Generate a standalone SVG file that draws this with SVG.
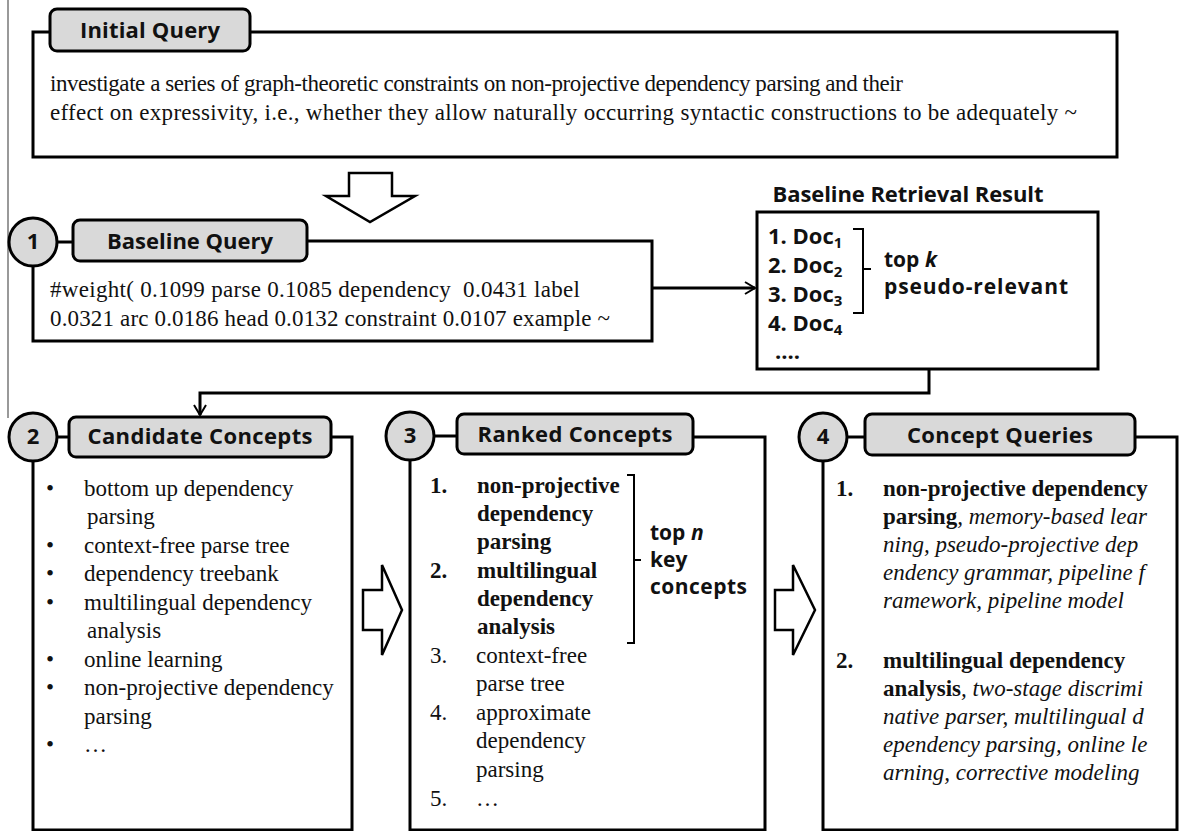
<svg xmlns="http://www.w3.org/2000/svg" width="1179" height="831" viewBox="0 0 1179 831">
<style>
.box{fill:none;stroke:#000;stroke-width:3}
.tab{fill:#d9d9d9;stroke:#000;stroke-width:3}
.ln{stroke:#000;stroke-width:3;fill:none}
.big{fill:#fff;stroke:#000;stroke-width:2.5;stroke-linejoin:miter}
.h{font-family:"Open Sans","Noto Sans",sans-serif;font-weight:bold;font-size:22px;text-anchor:middle;fill:#111}
.sb{font-family:"Open Sans","Noto Sans",sans-serif;font-weight:bold;font-size:22px;fill:#111}
.sk{font-family:"Open Sans","Noto Sans",sans-serif;font-weight:bold;font-size:21px;fill:#111}
.s{font-family:"Liberation Serif","Times New Roman",serif;font-size:23px;fill:#111;white-space:pre}
.b{font-weight:bold}
.i{font-style:italic}
</style>
<defs>
<marker id="chev" markerWidth="14" markerHeight="14" refX="11" refY="7" orient="auto" markerUnits="userSpaceOnUse">
<path d="M1,1 L11,7 L1,13" fill="none" stroke="#000" stroke-width="2"/>
</marker>
</defs>
<line x1="8" y1="0" x2="8" y2="418" stroke="#999" stroke-width="2"/>

<g id="connectors">
<line class="ln" x1="652" y1="288" x2="755" y2="288" stroke-width="2" marker-end="url(#chev)"/>
<path class="ln" stroke-width="2" d="M929,369 V393 H200 V415" marker-end="url(#chev)"/>
<polygon class="big" points="349,173 392,173 392,196 415,196 370,222 326,196 349,196"/>
<polygon class="big" points="363,590 382,590 382,565 402,610 382,655 382,630 363,630"/>
<polygon class="big" points="775,590 793,590 793,565 815,610 793,655 793,630 775,630"/>
</g>

<g id="initial-query">
<rect class="box" x="33" y="32" width="1084" height="125"/>
<rect class="tab" x="50" y="9" width="200" height="42" rx="7"/>
<text class="h" x="150" y="38" textLength="140">Initial Query</text>
<text class="s" x="50" y="91" font-size="22" textLength="853">investigate a series of graph-theoretic constraints on non-projective dependency parsing and their</text>
<text class="s" x="50" y="120" font-size="22" textLength="1027">effect on expressivity, i.e., whether they allow naturally occurring syntactic constructions to be adequately ~</text>
</g>

<g id="baseline-query">
<path class="box" d="M307,241 H652 V341 H33 V266"/>
<line class="ln" x1="57" y1="242" x2="73" y2="242"/>
<circle class="tab" cx="33" cy="242" r="24"/>
<text class="h" x="33" y="249">1</text>
<rect class="tab" x="73" y="220" width="234" height="41" rx="7"/>
<text class="h" x="190" y="249" textLength="166">Baseline Query</text>
<text class="s" x="50" y="297" textLength="530">#weight( 0.1099 parse 0.1085 dependency  0.0431 label</text>
<text class="s" x="50" y="326" textLength="560">0.0321 arc 0.0186 head 0.0132 constraint 0.0107 example ~</text>
</g>

<g id="baseline-retrieval-result">
<text class="h" x="908" y="202" textLength="271">Baseline Retrieval Result</text>
<rect class="box" x="757" y="212" width="341" height="157"/>
<text class="sb" x="768" y="244">1. Doc<tspan font-size="15" dy="4">1</tspan></text>
<text class="sb" x="768" y="273">2. Doc<tspan font-size="15" dy="4">2</tspan></text>
<text class="sb" x="768" y="302">3. Doc<tspan font-size="15" dy="4">3</tspan></text>
<text class="sb" x="768" y="331">4. Doc<tspan font-size="15" dy="4">4</tspan></text>
<text class="sb" x="775" y="359" font-size="20">....</text>
<path d="M853,229 H863 V313 H853 M863,269 H871" fill="none" stroke="#000" stroke-width="2"/>
<text class="sk" x="884" y="267">top <tspan font-style="italic">k</tspan></text>
<text class="sk" x="884" y="294" textLength="184">pseudo-relevant</text>
</g>

<g id="candidate-concepts">
<path class="box" d="M331,437 H352 V830 H33 V461"/>
<line class="ln" x1="57" y1="437" x2="69" y2="437"/>
<circle class="tab" cx="33" cy="437" r="24"/>
<text class="h" x="33" y="444">2</text>
<rect class="tab" x="69" y="417" width="262" height="40" rx="7"/>
<text class="h" x="200" y="444" textLength="225">Candidate Concepts</text>
<g class="s">
<text x="46" y="496">•</text><text x="84" y="496">bottom up dependency</text>
<text x="87" y="524">parsing</text>
<text x="46" y="553">•</text><text x="84" y="553">context-free parse tree</text>
<text x="46" y="581">•</text><text x="84" y="581">dependency treebank</text>
<text x="46" y="610">•</text><text x="84" y="610">multilingual dependency</text>
<text x="87" y="638">analysis</text>
<text x="46" y="667">•</text><text x="84" y="667">online learning</text>
<text x="46" y="695">•</text><text x="84" y="695">non-projective dependency</text>
<text x="84" y="724">parsing</text>
<text x="46" y="752">•</text><text x="84" y="752">…</text>
</g>
</g>

<g id="ranked-concepts">
<path class="box" d="M693,437 H765 V830 H410 V460"/>
<line class="ln" x1="434" y1="436" x2="457" y2="436"/>
<circle class="tab" cx="410" cy="436" r="24"/>
<text class="h" x="410" y="443">3</text>
<rect class="tab" x="457" y="414" width="236" height="40" rx="7"/>
<text class="h" x="575" y="442" textLength="195">Ranked Concepts</text>
<g class="s">
<text x="430" y="493" class="b">1.</text><text x="477" y="493" class="b">non-projective</text>
<text x="477" y="521" class="b">dependency</text>
<text x="477" y="549" class="b">parsing</text>
<text x="430" y="578" class="b">2.</text><text x="477" y="578" class="b">multilingual</text>
<text x="477" y="606" class="b">dependency</text>
<text x="477" y="634" class="b">analysis</text>
<text x="430" y="663">3.</text><text x="476" y="663">context-free</text>
<text x="476" y="691">parse tree</text>
<text x="430" y="720">4.</text><text x="476" y="720">approximate</text>
<text x="476" y="748">dependency</text>
<text x="476" y="777">parsing</text>
<text x="430" y="806">5.</text><text x="476" y="806">…</text>
</g>
<path d="M627,475 H634 V643 H627 M634,560 H641" fill="none" stroke="#000" stroke-width="2"/>
<text class="sk" x="650" y="540">top <tspan font-style="italic">n</tspan></text>
<text class="sk" x="650" y="567">key</text>
<text class="sk" x="650" y="594" textLength="97">concepts</text>
</g>

<g id="concept-queries">
<path class="box" d="M1135,437 H1177 V830 H823 V461"/>
<line class="ln" x1="847" y1="437" x2="865" y2="437"/>
<circle class="tab" cx="823" cy="437" r="24"/>
<text class="h" x="823" y="444">4</text>
<rect class="tab" x="865" y="414" width="270" height="41" rx="7"/>
<text class="h" x="1000" y="443" textLength="186">Concept Queries</text>
<g class="s">
<text x="836" y="496" class="b">1.</text><text x="883" y="496" class="b">non-projective dependency</text>
<text x="883" y="524"><tspan class="b">parsing</tspan><tspan class="i">, memory-based lear</tspan></text>
<text x="883" y="552" class="i">ning, pseudo-projective dep</text>
<text x="883" y="580" class="i">endency grammar, pipeline f</text>
<text x="883" y="608" class="i">ramework, pipeline model</text>
<text x="836" y="668" class="b">2.</text><text x="883" y="668" class="b">multilingual dependency</text>
<text x="883" y="696"><tspan class="b">analysis</tspan><tspan class="i">, two-stage discrimi</tspan></text>
<text x="883" y="724" class="i">native parser, multilingual d</text>
<text x="883" y="752" class="i">ependency parsing, online le</text>
<text x="883" y="780" class="i">arning, corrective modeling</text>
</g>
</g>
</svg>
